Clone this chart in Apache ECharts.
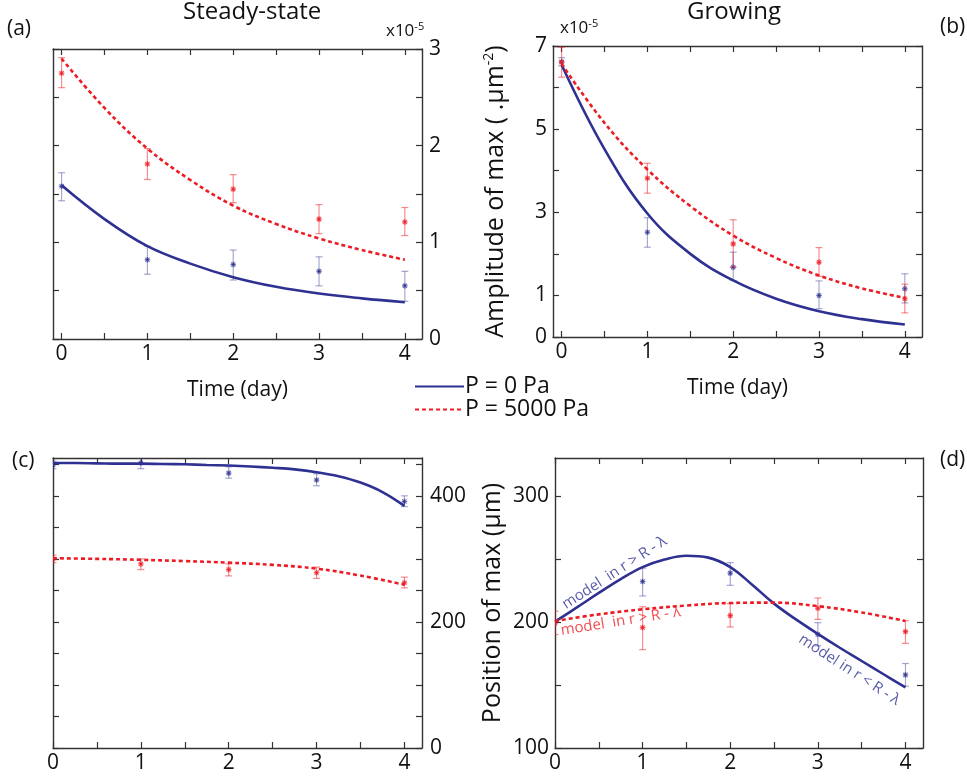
<!DOCTYPE html>
<html><head><meta charset="utf-8">
<script src="https://cdn.jsdelivr.net/npm/echarts@6/dist/echarts.min.js"></script>
<style>html,body{margin:0;padding:0;background:#fff}#c{width:967px;height:781px}</style>
</head><body><div id="c"></div>
<script>
// ---------------- data ----------------
const days = [0, 1, 2, 3, 4];
const fitX = [0, 0.5, 1, 1.5, 2, 2.5, 3, 3.5, 4];
const fitXFine = [0, 0.25, 0.5, 0.75, 1, 1.25, 1.5, 1.75, 2, 2.25, 2.5, 2.75, 3, 3.25, 3.5, 3.75, 4];
const xTickLabels = [0, 1, 2, 3, 4];
const xTickMarks = [0, 0.5, 1, 1.5, 2, 2.5, 3, 3.5, 4];

// (a) Steady-state amplitude (x1e-5)
const aYLabels = [0, 1, 2, 3];
const aYTicks = [0, 0.5, 1, 1.5, 2, 2.5, 3];
const aBlueMean = [1.58, 0.82, 0.77, 0.70, 0.55];
const aBlueLow  = [1.43, 0.67, 0.61, 0.55, 0.39];
const aBlueHigh = [1.72, 0.96, 0.92, 0.85, 0.70];
const aRedMean  = [2.75, 1.81, 1.55, 1.24, 1.21];
const aRedLow   = [2.60, 1.65, 1.41, 1.09, 1.07];
const aRedHigh  = [2.91, 1.97, 1.70, 1.39, 1.36];
const aBlueFit  = [1.59, 1.24, 0.96, 0.78, 0.64, 0.54, 0.47, 0.42, 0.38];
const aRedFit   = [2.90, 2.39, 1.97, 1.645, 1.38, 1.19, 1.04, 0.92, 0.82];

// (b) Growing amplitude (x1e-5)
const bYLabels = [0, 1, 3, 5, 7];
const bYTicks = [0, 1, 2, 3, 4, 5, 6, 7];
const bBlueMean = [6.62, 2.52, 1.68, 1.00, 1.16];
const bBlueLow  = [6.52, 2.16, 1.36, 0.68, 0.82];
const bBlueHigh = [6.72, 2.87, 2.04, 1.35, 1.52];
const bRedMean  = [6.61, 3.82, 2.24, 1.80, 0.92];
const bRedLow   = [6.25, 3.46, 1.68, 1.46, 0.58];
const bRedHigh  = [6.97, 4.18, 2.82, 2.15, 1.27];
const bBlueFit  = [6.55, 4.52, 2.97, 2.00, 1.36, 0.92, 0.62, 0.43, 0.30];
const bRedFit   = [6.57, 5.15, 4.03, 3.15, 2.44, 1.90, 1.48, 1.17, 0.94];

// (c) Steady-state position (µm)
const cYLabels = [0, 200, 400];
const cYTicks = [0, 50, 100, 150, 200, 250, 300, 350, 400, 450];
const cBlueMean = [449, 452, 436, 425, 391];
const cBlueLow  = [443, 443, 428, 416, 383];
const cBlueHigh = [455, 461, 446, 435, 400];
const cRedMean  = [300, 292, 283, 278, 262];
const cRedLow   = [294, 283, 273, 269, 254];
const cRedHigh  = [306, 300, 292, 287, 271];
const cBlueFit  = [452, 452, 451.5, 451, 451, 450.5, 450, 449, 448, 446.5, 444.5, 442, 437.5, 431, 421, 406, 384];
const cRedFit   = [301, 300, 298.5, 296.5, 294, 290.5, 284.5, 273.5, 259];

// (d) Growing position (µm)
const dYLabels = [100, 200, 300];
const dYTicks = [100, 150, 200, 250, 300];
const dBlueMean = [null, 232, 238.7, 190, 158];
const dBlueLow  = [null, 220.6, 229, 181, 149];
const dBlueHigh = [null, 242.6, 247, 199.4, 167];
const dRedMean  = [199, 195.5, 205, 210.8, 192.3];
const dRedLow   = [190, 178, 196, 202, 183];
const dRedHigh  = [208.5, 212, 214.5, 219, 201];
const dBlueFit  = [200.2, 211.5, 223, 234, 243.5, 249.5, 252.5, 251, 243.5, 229.5, 214.5, 202, 190.5, 179.5, 169, 158.5, 148];
const dRedFit   = [200.7, 206, 210, 213, 215, 215.3, 212.5, 207.5, 200.7];

const seriesNames = ['P = 0 Pa', 'P = 5000 Pa'];
const modelUpper = 'model  in r > R - λ';
const modelLower = 'model in r < R - λ';

// ---------------- styling ----------------
const FONT = '"Open Sans", "DejaVu Sans", sans-serif';
const BLUE = '#2e3192', RED = '#ed1c24';
const BLUE_E = 'rgba(46,49,146,0.42)', RED_E = 'rgba(237,28,36,0.5)';
const AX = '#333';

const grids = [
  {left: 53, top: 49, width: 369, height: 290},
  {left: 553, top: 46, width: 369, height: 291},
  {left: 53, top: 458, width: 369, height: 290},
  {left: 555, top: 458, width: 368, height: 290}
];

function xPair(g, min, max, name) {
  const base = {
    type: 'value', gridIndex: g, min: min, max: max,
    axisLine: {show: true, onZero: false, lineStyle: {color: AX, width: 1.4}},
    axisTick: {show: true, inside: true, length: 6, customValues: xTickMarks, lineStyle: {color: AX, width: 1.2}},
    splitLine: {show: false}
  };
  return [
    Object.assign({}, base, {position: 'bottom',
      axisLabel: {customValues: xTickLabels, fontSize: 21, color: '#111', fontFamily: FONT, margin: 5},
      name: name || '', nameLocation: 'middle', nameGap: 41,
      nameTextStyle: {fontSize: 21, color: '#111', fontFamily: FONT}}),
    Object.assign({}, base, {position: 'top', axisLabel: {show: false}})
  ];
}
function yPair(g, min, max, labels, ticks, mainPos, name, margin, nameGap) {
  const base = {
    type: 'value', gridIndex: g, min: min, max: max,
    axisLine: {show: true, onZero: false, lineStyle: {color: AX, width: 1.4}},
    axisTick: {show: true, inside: true, length: 6, customValues: ticks, lineStyle: {color: AX, width: 1.2}},
    splitLine: {show: false}
  };
  return [
    Object.assign({}, base, {position: mainPos,
      axisLabel: {customValues: labels, fontSize: 21, color: '#111', fontFamily: FONT, margin: margin},
      name: name || '', nameLocation: 'middle', nameGap: nameGap || 40, nameRotate: 90,
      nameTextStyle: {fontSize: 25, color: '#111', fontFamily: FONT,
        rich: {a: {fontSize: 25, color: '#111', fontFamily: FONT},
               s: {fontSize: 14, color: '#111', fontFamily: FONT, padding: [0, 0, 14, 0]}}}}),
    Object.assign({}, base, {position: mainPos === 'left' ? 'right' : 'left', axisLabel: {show: false}})
  ];
}

function fitSeries(g, xs, ys, name, color, dashed) {
  return {
    type: 'line', name: name, xAxisIndex: g * 2, yAxisIndex: g * 2,
    data: xs.map((x, i) => [x, ys[i]]), smooth: 0.4, symbol: 'none', showSymbol: false,
    lineStyle: {color: color, width: 2.6, type: dashed ? [4, 3] : 'solid'},
    itemStyle: {color: color}, z: 5, clip: true
  };
}
function errSeries(g, mean, lo, hi, color, mcolor) {
  const data = [];
  days.forEach((d, i) => { if (mean[i] != null) data.push([d, mean[i], lo[i], hi[i]]); });
  return {
    type: 'custom', xAxisIndex: g * 2, yAxisIndex: g * 2, clip: true, z: 3,
    data: data,
    renderItem: function (params, api) {
      const x = api.value(0);
      const p = api.coord([x, api.value(1)]);
      const pl = api.coord([x, api.value(2)]);
      const ph = api.coord([x, api.value(3)]);
      const cw = 3.5, s = 2.8;
      const st = {stroke: color, lineWidth: 1.2};
      const ms = {stroke: mcolor, lineWidth: 1.2};
      return {type: 'group', children: [
        {type: 'line', shape: {x1: p[0], y1: pl[1], x2: p[0], y2: ph[1]}, style: st},
        {type: 'line', shape: {x1: p[0] - cw, y1: pl[1], x2: p[0] + cw, y2: pl[1]}, style: st},
        {type: 'line', shape: {x1: p[0] - cw, y1: ph[1], x2: p[0] + cw, y2: ph[1]}, style: st},
        {type: 'line', shape: {x1: p[0] - s, y1: p[1], x2: p[0] + s, y2: p[1]}, style: ms},
        {type: 'line', shape: {x1: p[0], y1: p[1] - s, x2: p[0], y2: p[1] + s}, style: ms},
        {type: 'line', shape: {x1: p[0] - s * 0.75, y1: p[1] - s * 0.75, x2: p[0] + s * 0.75, y2: p[1] + s * 0.75}, style: ms},
        {type: 'line', shape: {x1: p[0] - s * 0.75, y1: p[1] + s * 0.75, x2: p[0] + s * 0.75, y2: p[1] - s * 0.75}, style: ms}
      ]};
    }
  };
}
function textMark(g, x, y, text, color, rot) {
  return {
    type: 'scatter', xAxisIndex: g * 2, yAxisIndex: g * 2, symbolSize: 0, silent: true, z: 6,
    data: [[x, y]],
    label: {show: true, position: 'inside', formatter: text, rotate: rot, color: color,
      fontSize: 15, fontFamily: FONT}
  };
}

const xAxes = [].concat(
  xPair(0, -0.1, 4.2, 'Time (day)'),
  xPair(1, -0.1, 4.2, 'Time (day)'),
  xPair(2, 0, 4.2),
  xPair(3, 0, 4.2)
);
const yAxes = [].concat(
  yPair(0, 0, 3, aYLabels, aYTicks, 'right', '', 7),
  yPair(1, 0, 7, bYLabels, bYTicks, 'left', '{a|Amplitude of max ( .μm}{s|-2}{a|)}', 6, 43),
  yPair(2, 0, 460, cYLabels, cYTicks, 'right', '', 8),
  yPair(3, 100, 330, dYLabels, dYTicks, 'left', 'Position of max (μm)', 6, 50)
);

const series = [
  errSeries(0, aBlueMean, aBlueLow, aBlueHigh, BLUE_E, 'rgba(46,49,146,0.7)'),
  errSeries(0, aRedMean, aRedLow, aRedHigh, RED_E, 'rgba(237,28,36,0.75)'),
  fitSeries(0, fitX, aBlueFit, seriesNames[0], BLUE, false),
  fitSeries(0, fitX, aRedFit, seriesNames[1], RED, true),

  errSeries(1, bBlueMean, bBlueLow, bBlueHigh, BLUE_E, 'rgba(46,49,146,0.7)'),
  errSeries(1, bRedMean, bRedLow, bRedHigh, RED_E, 'rgba(237,28,36,0.75)'),
  fitSeries(1, fitX, bBlueFit, seriesNames[0], BLUE, false),
  fitSeries(1, fitX, bRedFit, seriesNames[1], RED, true),

  errSeries(2, cBlueMean, cBlueLow, cBlueHigh, BLUE_E, 'rgba(46,49,146,0.7)'),
  errSeries(2, cRedMean, cRedLow, cRedHigh, RED_E, 'rgba(237,28,36,0.75)'),
  fitSeries(2, fitXFine, cBlueFit, seriesNames[0], BLUE, false),
  fitSeries(2, fitX, cRedFit, seriesNames[1], RED, true),

  errSeries(3, dBlueMean, dBlueLow, dBlueHigh, BLUE_E, 'rgba(46,49,146,0.7)'),
  errSeries(3, dRedMean, dRedLow, dRedHigh, RED_E, 'rgba(237,28,36,0.75)'),
  fitSeries(3, fitXFine, dBlueFit, seriesNames[0], BLUE, false),
  fitSeries(3, fitX, dRedFit, seriesNames[1], RED, true),
  textMark(3, 0.68, 239, modelUpper, BLUE, 33),
  textMark(3, 0.75, 200.5, modelUpper, RED, 9),
  textMark(3, 3.36, 162, modelLower, BLUE, -33)
];

const txt = (left, top, text, size, extra) => Object.assign({
  type: 'text', left: left, top: top,
  style: {text: text, fontSize: size, fontFamily: FONT, fill: '#111'}
}, extra || {});

const chart = echarts.init(document.getElementById('c'), null, {renderer: 'canvas'});
chart.setOption({
  backgroundColor: '#fff',
  animation: false,
  grid: grids.map(g => Object.assign({show: false, containLabel: false}, g)),
  xAxis: xAxes,
  yAxis: yAxes,
  legend: {
    data: seriesNames, orient: 'vertical', left: 409, top: 370,
    itemWidth: 49, itemHeight: 14, itemGap: 0,
    itemStyle: {opacity: 0},
    textStyle: {fontSize: 23, color: '#111', fontFamily: FONT, padding: [0, 0, 0, -4]}
  },
  series: series,
  graphic: [
    txt(183, 0, 'Steady-state', 24),
    txt(687, 0, 'Growing', 24),
    txt(7, 19, '(a)', 21),
    txt(940, 17, '(b)', 21),
    txt(12, 451, '(c)', 21),
    txt(940, 450, '(d)', 21),
    {type: 'text', left: 386, top: 21, style: {text: '{a|x10}{s|-5}', rich: {
      a: {fontSize: 17, fontFamily: FONT, fill: '#111'},
      s: {fontSize: 11, fontFamily: FONT, fill: '#111', padding: [0, 0, 10, 0]}}}},
    {type: 'text', left: 560, top: 18, style: {text: '{a|x10}{s|-5}', rich: {
      a: {fontSize: 17, fontFamily: FONT, fill: '#111'},
      s: {fontSize: 11, fontFamily: FONT, fill: '#111', padding: [0, 0, 10, 0]}}}}
  ]
});
</script></body></html>
